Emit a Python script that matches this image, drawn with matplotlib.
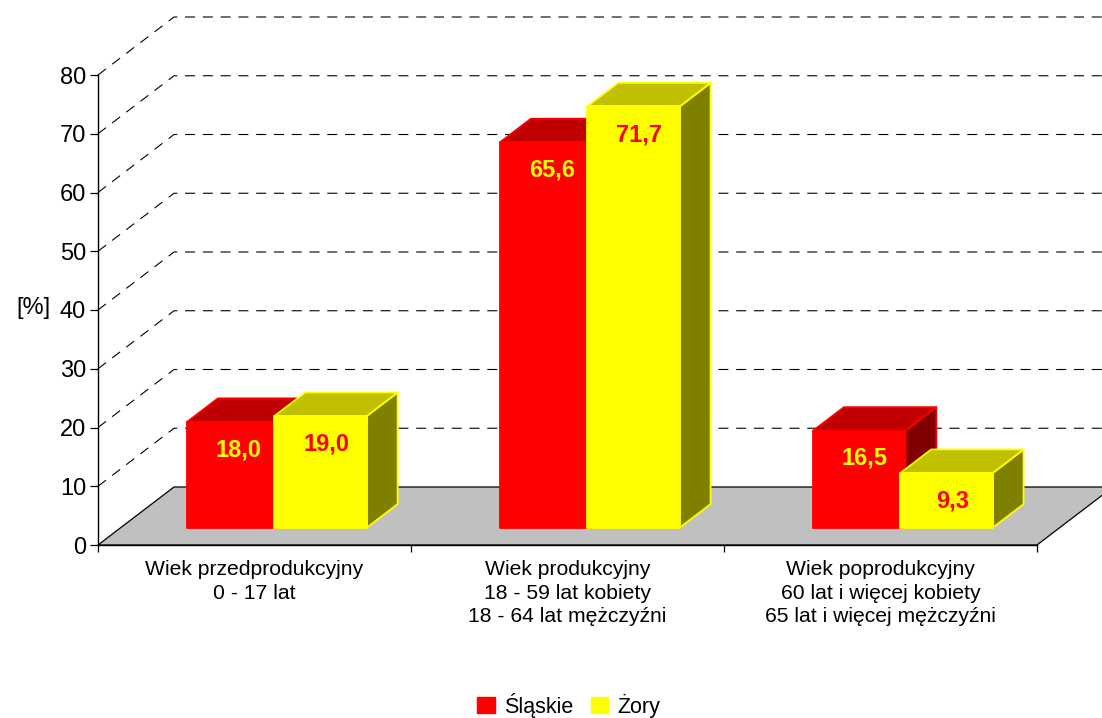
import matplotlib
matplotlib.use("Agg")
import matplotlib.pyplot as plt
from matplotlib.patches import Patch

plt.rcParams['font.family'] = ['Liberation Sans', 'DejaVu Sans']

categories = ["Wiek przedprodukcyjny\n0 - 17 lat",
              "Wiek produkcyjny\n18 - 59 lat kobiety\n18 - 64 lat mężczyźni",
              "Wiek poprodukcyjny\n60 lat i więcej kobiety\n65 lat i więcej mężczyźni"]
slaskie = [18.0, 65.6, 16.5]
zory = [19.0, 71.7, 9.3]
slaskie_labels = ["18,0", "65,6", "16,5"]
zory_labels = ["19,0", "71,7", "9,3"]
y_ticks = [0, 10, 20, 30, 40, 50, 60, 70, 80]

W, H = 1102, 718
px_x = 313.0          # pixels per category
px_y = 5.875          # pixels per percent
depth_x = 76 / px_x   # full depth of the floor in data units
depth_y = 58 / px_y
bar_front = 0.30      # bars stand between these fractions of the depth
bar_back = 0.705
bar_w = 0.295


def shift(x, y, f):
    return x + f * depth_x, y + f * depth_y


def box(ax, left, top, color, top_color, side_color):
    x0, y0 = shift(left, 0, bar_front)
    x1, y1 = shift(left + bar_w, top, bar_front)
    dx = (bar_back - bar_front) * depth_x
    dy = (bar_back - bar_front) * depth_y
    style = dict(edgecolor=color, linewidth=1.3, clip_on=False, zorder=4, joinstyle='round')
    ax.fill([x1, x1 + dx, x1 + dx, x1], [y0, y0 + dy, y1 + dy, y1], facecolor=side_color, **style)
    ax.fill([x0, x1, x1 + dx, x0 + dx], [y1, y1, y1 + dy, y1 + dy], facecolor=top_color, **style)
    ax.fill([x0, x1, x1, x0], [y0, y0, y1, y1], facecolor=color, **style)


fig = plt.figure(figsize=(W / 100, H / 100), dpi=100)
ax = fig.add_axes([98 / W, 1 - 545 / H, 939 / W, 470 / H])
ax.set_xlim(0, 3)
ax.set_ylim(0, 80)
ax.patch.set_visible(False)
for s in ['top', 'right']:
    ax.spines[s].set_visible(False)
for s in ['left', 'bottom']:
    ax.spines[s].set_linewidth(1.0)
    ax.spines[s].set_zorder(3)

# floor
ax.fill([0, 3, 3 + depth_x, depth_x], [0, 0, depth_y, depth_y], facecolor='#C0C0C0',
        edgecolor='black', linewidth=0.9, clip_on=False, zorder=1)

# walls
for v in y_ticks[1:]:
    ax.plot([0, depth_x, 3 + depth_x], [v, v + depth_y, v + depth_y], color='black', lw=0.8,
            ls=(0, (9, 7)), clip_on=False, zorder=2)

# bars
for i in range(3):
    center = i + 0.5
    box(ax, center - 0.288, slaskie[i], '#FF0000', '#C00000', '#800000')
    box(ax, center - 0.009, zory[i], '#FFFF00', '#C0C000', '#808000')

# value labels
for i in range(3):
    center = i + 0.5
    x, y = shift(center - 0.288 + bar_w / 2, slaskie[i], bar_front)
    ax.annotate(slaskie_labels[i], (x, y), xytext=(4, -20), textcoords='offset points', ha='center',
                va='center', color='#FFFF00', fontsize=17, fontweight='bold', zorder=5, annotation_clip=False)
    x, y = shift(center - 0.009 + bar_w / 2, zory[i], bar_front)
    ax.annotate(zory_labels[i], (x, y), xytext=(4, -20.5), textcoords='offset points', ha='center',
                va='center', color='#FF0000', fontsize=17, fontweight='bold', zorder=5, annotation_clip=False)

ax.set_yticks(y_ticks)
ax.tick_params(axis='y', length=5.5, width=0.9, labelsize=17, pad=3)
ax.set_xticks([0, 1, 2, 3])
ax.set_xticklabels([])
ax.tick_params(axis='x', which='major', length=5, width=0.9)
ax.set_xticks([0.5, 1.5, 2.5], minor=True)
ax.set_xticklabels(categories, minor=True, fontsize=15.2, linespacing=1.3)
ax.tick_params(axis='x', which='minor', length=0, pad=11)

fig.text(33 / W, 1 - 308 / H, "[%]", ha='center', va='center', fontsize=17)

handles = [Patch(facecolor='#FF0000', edgecolor='#FF0000'), Patch(facecolor='#FFFF00', edgecolor='#FFFF00')]
fig.legend(handles, ["Śląskie", "Żory"], ncol=2, frameon=False, fontsize=15.5, loc='center',
           bbox_to_anchor=(569 / W, 1 - 705 / H), handlelength=0.8, handleheight=0.8,
           handletextpad=0.45, columnspacing=0.8, borderpad=0)

fig.savefig("out.png", dpi=100)
